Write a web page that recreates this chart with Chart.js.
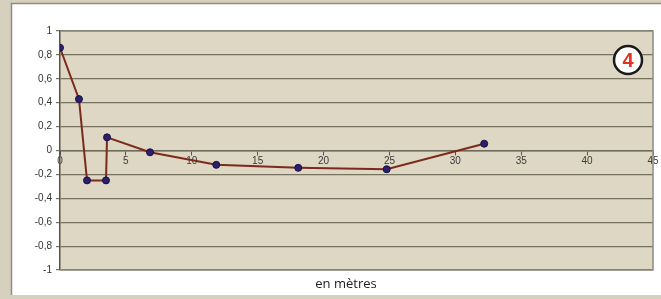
<!DOCTYPE html>
<html>
<head>
<meta charset="utf-8">
<script src="https://cdn.jsdelivr.net/npm/chart.js@4/dist/chart.umd.min.js"></script>
<style>
  html, body { margin: 0; padding: 0; background: #d6d1be; }
  canvas { display: block; }
</style>
</head>
<body>
<canvas id="profil" width="661" height="299"></canvas>
<script>
// distance (m) et valeurs
const distances = [0, 1.44, 2.05, 3.49, 3.57, 6.83, 11.86, 18.08, 24.79, 32.19];
const valeurs = [0.86, 0.43, -0.25, -0.25, 0.11, -0.015, -0.12, -0.145, -0.157, 0.057];
const xTicks = [0, 5, 10, 15, 20, 25, 30, 35, 40, 45];
const yTicks = [1, 0.8, 0.6, 0.4, 0.2, 0, -0.2, -0.4, -0.6, -0.8, -1];
const titreX = 'en mètres';
const badge = '4';

const points = distances.map((d, i) => ({ x: d, y: valeurs[i] }));

// fonds : cadre blanc + zone de tracé beige
const fondPlugin = {
    id: 'fond',
    beforeDraw(chart) {
        const ctx = chart.ctx;
        const a = chart.chartArea;
        ctx.save();
        ctx.fillStyle = '#d6d1be';
        ctx.fillRect(0, 0, chart.width, chart.height);
        ctx.fillStyle = '#ffffff';
        ctx.fillRect(11, 3, chart.width - 11, 292);
        ctx.strokeStyle = '#8f8d82';
        ctx.lineWidth = 1.5;
        ctx.beginPath();
        ctx.moveTo(11.5, 295);
        ctx.lineTo(11.5, 3.5);
        ctx.lineTo(chart.width, 3.5);
        ctx.stroke();
        ctx.fillStyle = '#ddd7c3';
        ctx.fillRect(a.left, a.top, a.right - a.left, a.bottom - a.top);
        ctx.restore();
    },
    afterDraw(chart) {
        const ctx = chart.ctx;
        const a = chart.chartArea;
        ctx.save();
        // bord de la zone de tracé
        ctx.strokeStyle = '#8c8b83';
        ctx.lineWidth = 1.5;
        ctx.beginPath();
        ctx.moveTo(a.left, a.top);
        ctx.lineTo(a.right, a.top);
        ctx.lineTo(a.right, a.bottom);
        ctx.lineTo(a.left, a.bottom);
        ctx.stroke();
        // titre de l'axe, un peu à gauche du centre comme sur l'original
        ctx.fillStyle = '#222222';
        ctx.font = '13px "Open Sans", "Noto Sans", sans-serif';
        ctx.textAlign = 'center';
        ctx.textBaseline = 'middle';
        ctx.fillText(titreX, 346, a.bottom + 14.5);
        // pastille numérotée
        const cx = a.right - 25, cy = a.top + 29;
        ctx.beginPath();
        ctx.arc(cx, cy, 14, 0, Math.PI * 2);
        ctx.fillStyle = '#ffffff';
        ctx.fill();
        ctx.lineWidth = 2.5;
        ctx.strokeStyle = '#1a1a1a';
        ctx.stroke();
        ctx.fillStyle = '#e0321f';
        ctx.font = 'bold 20px "Liberation Sans", Arial, sans-serif';
        ctx.fillText(badge, cx, cy + 1);
        ctx.restore();
    }
};

function virgule(v) {
    const r = Math.round(v * 10) / 10;
    return (r === 0 ? '0' : String(r)).replace('.', ',');
}

new Chart(document.getElementById('profil'), {
    type: 'scatter',
    data: {
        datasets: [{
            data: points,
            showLine: true,
            borderColor: '#7b2a1c',
            borderWidth: 2,
            pointRadius: 3.5,
            pointBackgroundColor: '#2b1f6e',
            pointBorderColor: '#1a1040',
            pointBorderWidth: 1
        }]
    },
    options: {
        responsive: false,
        animation: false,
        layout: { padding: { left: 22, right: 8, top: 31, bottom: 29 } },
        plugins: {
            legend: { display: false },
            tooltip: { enabled: false }
        },
        scales: {
            x: {
                type: 'linear',
                position: { y: 0 },
                min: 0,
                max: 45,
                afterFit(scale) { scale.height = 0; },
                afterBuildTicks(scale) { scale.ticks = xTicks.map(v => ({ value: v })); },
                grid: { drawOnChartArea: false, drawTicks: true, tickLength: 4, color: '#55524a' },
                border: { display: true, color: '#6e6a5c', width: 1.5 },
                ticks: {
                    color: '#3a3a3a',
                    padding: 1,
                    maxRotation: 0,
                    font: { family: '"Liberation Sans", Arial, sans-serif', size: 10 }
                }
            },
            y: {
                min: -1,
                max: 1,
                afterFit(scale) { scale.width = 38; },
                afterBuildTicks(scale) { scale.ticks = yTicks.map(v => ({ value: v })); },
                grid: { color: '#76725f', lineWidth: 1.2, tickLength: 4 },
                border: { display: true, color: '#55524a', width: 1.5 },
                ticks: {
                    color: '#333333',
                    padding: 4,
                    callback: virgule,
                    font: { family: '"Liberation Sans", Arial, sans-serif', size: 10 }
                }
            }
        }
    },
    plugins: [fondPlugin]
});
</script>
</body>
</html>
